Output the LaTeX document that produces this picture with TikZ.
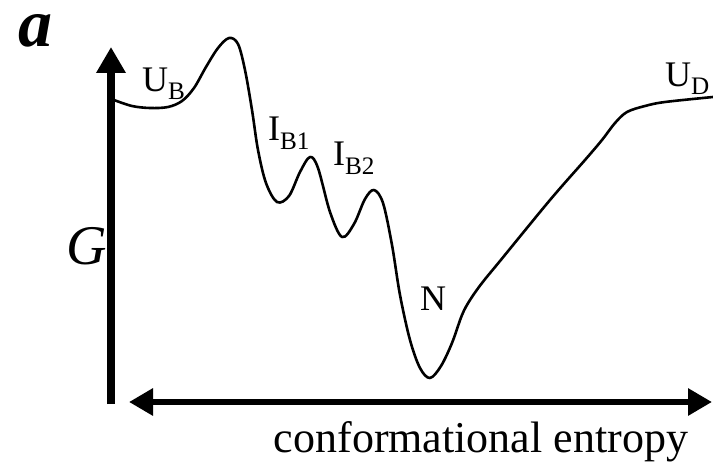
\documentclass[tikz,border=0pt]{standalone}
\usepackage{fontspec}
\setmainfont{Liberation Serif}
\usetikzlibrary{arrows.meta}

\begin{document}
\begin{tikzpicture}[x=1pt,y=-1pt,
    gaxis/.style={line width=8pt,-{Triangle[length=26pt,width=28pt]}},
    saxis/.style={line width=6.5pt,{Triangle[length=24pt,width=26pt]}-{Triangle[length=24pt,width=26pt]}},
    curve/.style={line width=2.6pt,line join=round},
    lbl/.style={font=\fontsize{36}{36}\selectfont,inner sep=0pt,anchor=base west}]

\useasboundingbox (0,0) rectangle (713,468);

% Axes
\coordinate (origin) at (111,404);
\coordinate (gtop) at (111,47);
\coordinate (sleft) at (129,402);
\coordinate (sright) at (712,402);
\draw[gaxis] (origin) -- (gtop);
\draw[saxis] (sleft) -- (sright);

% Free energy curve
\draw[curve] plot[smooth,tension=0.55] coordinates {
(114,100) (132,106) (150,108) (168,107) (182,101) (194,88)
(206,67) (218,48) (229,38) (238,44) (245,70) (252,110) (258,150)
(266,183) (277,202) (289,196) (300,172) (310,157) (318,168)
(330,212) (342,237) (354,224) (365,199) (374,190) (383,203)
(392,245) (400,295) (410,340) (420,368) (430,378) (441,366)
(452,343) (462,315) (470,300) (482,283) (500,261) (550,200)
(585,160) (602,140) (615,123) (627,112) (645,106) (665,102)
(713,97)};

% State labels
\node[lbl] (ub) at (142,92) {U\textsubscript{B}};
\node[lbl] (ib1) at (268,141) {I\textsubscript{B1}};
\node[lbl] (ib2) at (333,166) {I\textsubscript{B2}};
\node[lbl] (nat) at (420,310) {N};
\node[lbl] (ud) at (665,87) {U\textsubscript{D}};

% Axis labels
\node[font=\fontsize{56}{56}\selectfont\itshape] (glbl) at (87,246) {G};
\node[font=\fontsize{44}{44}\selectfont,anchor=base] (slbl) at (481,452) {conformational entropy};
\node[font=\fontsize{68}{68}\selectfont\bfseries\itshape,anchor=base,inner sep=0pt,
      text height=32pt,text depth=0pt] (panel) at (35,47) {a};

\end{tikzpicture}
\end{document}
